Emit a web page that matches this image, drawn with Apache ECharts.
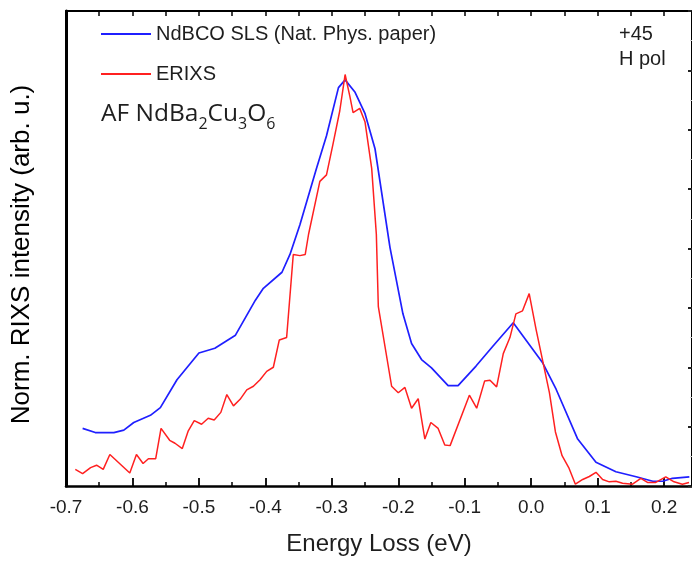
<!DOCTYPE html>
<html>
<head>
<meta charset="utf-8">
<script src="https://cdn.jsdelivr.net/npm/echarts@6/dist/echarts.min.js"></script>
<style>html,body{margin:0;padding:0;background:#fff;}#c{width:692px;height:561px;}</style>
</head>
<body>
<div id="c"></div>
<script>
// ---- data ----
const blueName = 'NdBCO SLS (Nat. Phys. paper)';
const redName = 'ERIXS';
const blueX = [-0.675,-0.656,-0.628,-0.613,-0.598,-0.573,-0.558,-0.533,-0.5,-0.476,-0.445,-0.415,-0.403,-0.375,-0.363,-0.348,-0.323,-0.308,-0.29,-0.28,-0.265,-0.25,-0.235,-0.2125,-0.193,-0.18,-0.165,-0.15,-0.125,-0.11,-0.083,-0.058,-0.027,0.0175,0.0375,0.07,0.0975,0.1275,0.158,0.183,0.198,0.2125,0.238];
const blueY = [0.97,0.9,0.9,0.94,1.07,1.19,1.32,1.79,2.24,2.32,2.54,3.13,3.33,3.6,3.9,4.4,5.35,5.9,6.71,6.84,6.63,6.27,5.68,4.02,2.9,2.4,2.13,1.99,1.69,1.69,2.02,2.35,2.75,2.07,1.63,0.79,0.4,0.24,0.155,0.08,0.08,0.13,0.155];
const redX = [-0.686,-0.675,-0.663,-0.654,-0.644,-0.634,-0.604,-0.594,-0.584,-0.576,-0.565,-0.557,-0.544,-0.536,-0.525,-0.516,-0.507,-0.496,-0.486,-0.477,-0.467,-0.458,-0.448,-0.438,-0.428,-0.418,-0.408,-0.398,-0.388,-0.379,-0.368,-0.358,-0.348,-0.34,-0.335,-0.318,-0.308,-0.298,-0.288,-0.28,-0.273,-0.268,-0.258,-0.25,-0.24,-0.233,-0.23,-0.21,-0.2,-0.19,-0.18,-0.17,-0.16,-0.151,-0.14,-0.13,-0.122,-0.093,-0.082,-0.07,-0.062,-0.052,-0.042,-0.032,-0.023,-0.013,-0.003,0.0075,0.0175,0.0275,0.0365,0.0465,0.0565,0.0665,0.0775,0.0875,0.0975,0.1075,0.1175,0.1275,0.1375,0.1525,0.165,0.175,0.1875,0.2025,0.215,0.2275,0.2375];
const redY = [0.28,0.21,0.31,0.35,0.28,0.53,0.22,0.53,0.38,0.46,0.46,0.97,0.77,0.72,0.63,0.93,1.1,1.04,1.14,1.11,1.24,1.54,1.35,1.46,1.62,1.68,1.79,1.93,2.0,2.46,2.5,3.9,3.88,3.9,4.24,5.13,5.24,5.77,6.32,6.93,6.57,6.29,6.36,6.13,5.35,4.24,3.02,1.68,1.57,1.66,1.31,1.47,0.79,1.07,0.97,0.69,0.68,1.53,1.31,1.77,1.78,1.67,2.23,2.5,2.9,2.95,3.24,2.63,2.1,1.57,0.91,0.51,0.31,0.03,0.11,0.16,0.23,0.11,0.07,0.08,0.045,0.03,0.13,0.06,0.06,0.155,0.07,0.03,0.06];
const xMin = -0.7, xMax = 0.242, xStep = 0.1;
const yMin = 0, yMax = 8, yStep = 1;
const xTitle = 'Energy Loss (eV)';
const yTitle = 'Norm. RIXS intensity (arb. u.)';
const sampleParts = ['AF NdBa', '2', 'Cu', '3', 'O', '6'];
const polLines = ['+45', 'H pol'];

const zip = (xs, ys) => xs.map((x, i) => [x, ys[i]]);
const FONT = '"Liberation Sans", Arial, sans-serif';
const SFONT = '"Open Sans", Lato, sans-serif';
const INK = '#1e1e1e';

const chart = echarts.init(document.getElementById('c'), null, {renderer: 'canvas'});
chart.setOption({
  animation: false,
  backgroundColor: '#fff',
  textStyle: {fontFamily: FONT},
  grid: {left: 66, right: 0, top: 11, bottom: 70, containLabel: false},
  title: {
    left: 96, top: 96,
    text: '{a|' + sampleParts[0] + '}{s|' + sampleParts[1] + '}{a|' + sampleParts[2] + '}{s|' + sampleParts[3] + '}{a|' + sampleParts[4] + '}{s|' + sampleParts[5] + '}',
    textStyle: {
      fontWeight: 'normal',
      rich: {
        a: {fontFamily: SFONT, fontWeight: 'normal', fontSize: 24.5, color: INK, lineHeight: 32, verticalAlign: 'bottom', padding: [0,0,6,0]},
        s: {fontFamily: SFONT, fontWeight: 'normal', fontSize: 16, color: INK, lineHeight: 32, verticalAlign: 'bottom', padding: [0,0,1,0]}
      }
    }
  },
  legend: {
    orient: 'vertical', left: 96, top: 19,
    icon: 'rect',
    itemWidth: 50, itemHeight: 2, itemGap: 20,
    textStyle: {fontSize: 20, color: INK, fontFamily: FONT},
    data: [blueName, redName]
  },
  graphic: [{
    type: 'text', left: 619, top: 22,
    style: {text: polLines.join('\n'), font: '20px ' + FONT, fill: INK, lineHeight: 25}
  }],
  xAxis: [{
    type: 'value', position: 'bottom', min: xMin, max: xMax, interval: xStep,
    name: xTitle, nameLocation: 'middle', nameGap: 46,
    nameTextStyle: {fontSize: 24, color: INK, fontFamily: FONT},
    axisLine: {show: true, onZero: false, lineStyle: {color: '#000', width: 2.5}},
    axisTick: {show: true, inside: true, length: 8, lineStyle: {color: '#000', width: 1.8}},
    minorTick: {show: true, splitNumber: 2, length: 4, lineStyle: {color: '#000', width: 1.5}},
    axisLabel: {fontSize: 19, color: INK, margin: 12, showMaxLabel: false, fontFamily: FONT,
      formatter: v => (Math.abs(v / xStep - Math.round(v / xStep)) < 1e-6 ? v.toFixed(1) : '')},
    splitLine: {show: false}
  }, {
    type: 'value', position: 'top', min: xMin, max: xMax, interval: xStep / 2,
    axisLine: {show: true, onZero: false, lineStyle: {color: '#000', width: 2}},
    axisTick: {show: true, inside: true, length: 5, lineStyle: {color: '#000', width: 1.5}},
    axisLabel: {show: false},
    splitLine: {show: false}
  }],
  yAxis: [{
    type: 'value', position: 'left', min: yMin, max: yMax, interval: yStep,
    name: yTitle, nameLocation: 'middle', nameGap: 31,
    nameTextStyle: {fontSize: 26, color: '#000', fontFamily: FONT, padding: [0, 12, 0, 0]},
    axisLine: {show: true, onZero: false, lineStyle: {color: '#000', width: 3}},
    axisTick: {show: false},
    axisLabel: {show: false},
    splitLine: {show: false}
  }, {
    type: 'value', position: 'right', min: yMin, max: yMax, interval: yStep,
    axisLine: {show: true, onZero: false, lineStyle: {color: '#000', width: 2}},
    axisTick: {show: true, inside: true, length: 4, lineStyle: {color: '#222', width: 2}},
    minorTick: {show: true, splitNumber: 2, length: 2, lineStyle: {color: '#ccc', width: 1}},
    axisLabel: {show: false},
    splitLine: {show: false}
  }],
  series: [{
    name: blueName, type: 'line', xAxisIndex: 0, yAxisIndex: 0,
    data: zip(blueX, blueY), symbol: 'none', clip: true,
    lineStyle: {color: '#1f1fff', width: 1.7}, itemStyle: {color: '#1f1fff'}
  }, {
    name: redName, type: 'line', xAxisIndex: 0, yAxisIndex: 0,
    data: zip(redX, redY), symbol: 'none', clip: true,
    lineStyle: {color: '#ff2020', width: 1.5}, itemStyle: {color: '#ff2020'}
  }]
});
</script>
</body>
</html>
